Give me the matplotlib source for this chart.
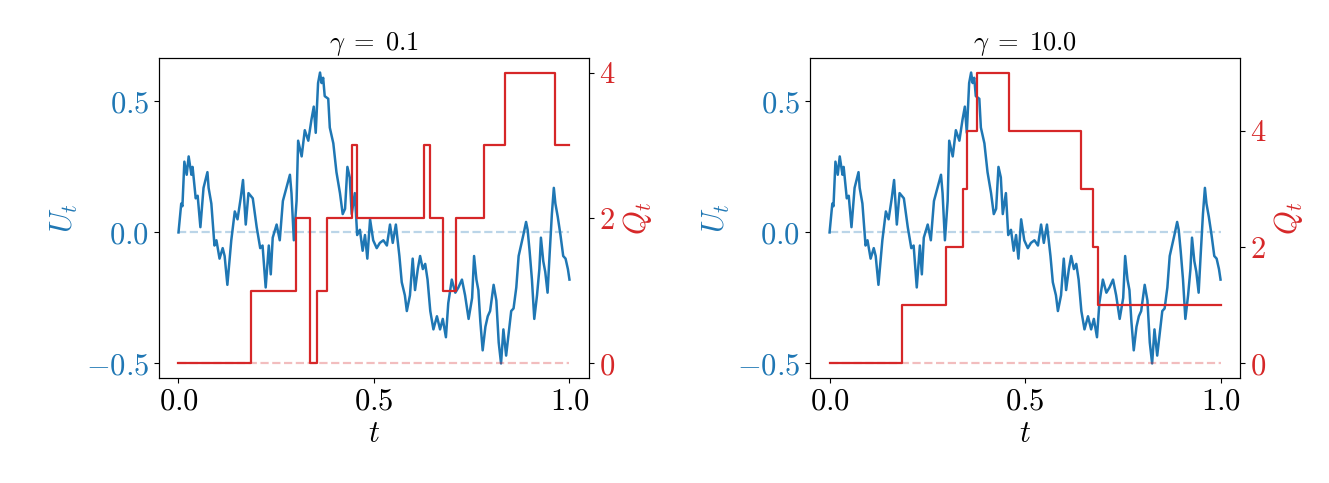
import numpy as np
import matplotlib
matplotlib.use("Agg")
import matplotlib.pyplot as plt

plt.rcParams["font.family"] = ["cmr10", "DejaVu Serif"]
plt.rcParams["mathtext.fontset"] = "cm"
plt.rcParams["axes.formatter.use_mathtext"] = True
plt.rcParams["axes.unicode_minus"] = True

# U_t path (same path in both panels)
t_path = [0.000, 0.007, 0.010, 0.015, 0.021, 0.026, 0.033, 0.036, 0.044, 0.049,
          0.056, 0.064, 0.074, 0.077, 0.084, 0.092, 0.097, 0.105, 0.113, 0.118,
          0.125, 0.135, 0.144, 0.151, 0.159, 0.165, 0.172, 0.179, 0.190, 0.200,
          0.209, 0.215, 0.223, 0.231, 0.236, 0.241, 0.251, 0.259, 0.267, 0.276,
          0.285, 0.289, 0.295, 0.302, 0.306, 0.315, 0.323, 0.332, 0.340, 0.346,
          0.351, 0.357, 0.362, 0.366, 0.370, 0.374, 0.383, 0.387, 0.396, 0.404,
          0.413, 0.420, 0.426, 0.432, 0.438, 0.443, 0.451, 0.457, 0.464, 0.471,
          0.477, 0.483, 0.490, 0.498, 0.507, 0.515, 0.524, 0.533, 0.541, 0.548,
          0.556, 0.565, 0.571, 0.579, 0.584, 0.592, 0.599, 0.605, 0.612, 0.618,
          0.625, 0.631, 0.637, 0.644, 0.652, 0.661, 0.669, 0.676, 0.684, 0.690,
          0.699, 0.708, 0.716, 0.725, 0.733, 0.742, 0.751, 0.756, 0.762, 0.767,
          0.772, 0.778, 0.785, 0.791, 0.797, 0.806, 0.813, 0.819, 0.825, 0.831,
          0.838, 0.844, 0.851, 0.857, 0.864, 0.870, 0.876, 0.882, 0.889, 0.893,
          0.898, 0.904, 0.910, 0.917, 0.923, 0.927, 0.933, 0.938, 0.944, 0.949,
          0.955, 0.960, 0.964, 0.970, 0.977, 0.984, 0.990, 0.996, 1.000]
u_path = [0.00, 0.11, 0.10, 0.27, 0.22, 0.29, 0.22, 0.25, 0.13, 0.14,
          0.02, 0.17, 0.23, 0.17, 0.11, -0.05, -0.03, -0.10, -0.06, -0.09,
          -0.20, -0.03, 0.08, 0.05, 0.13, 0.20, 0.03, 0.15, 0.13, 0.02,
          -0.06, -0.05, -0.21, -0.05, -0.16, -0.02, 0.03, -0.03, 0.12, 0.17,
          0.22, 0.15, -0.03, 0.12, 0.35, 0.29, 0.39, 0.35, 0.43, 0.48,
          0.38, 0.57, 0.61, 0.57, 0.59, 0.52, 0.51, 0.40, 0.34, 0.23,
          0.15, 0.07, 0.09, 0.25, 0.21, 0.07, 0.15, -0.01, 0.01, -0.07,
          -0.01, -0.10, 0.05, -0.03, -0.06, -0.04, -0.03, -0.05, 0.03, -0.04,
          0.03, -0.09, -0.19, -0.24, -0.30, -0.24, -0.10, -0.22, -0.14, -0.09,
          -0.14, -0.12, -0.18, -0.30, -0.37, -0.32, -0.37, -0.33, -0.40, -0.27,
          -0.18, -0.23, -0.21, -0.18, -0.24, -0.33, -0.25, -0.09, -0.18, -0.22,
          -0.34, -0.45, -0.36, -0.32, -0.30, -0.20, -0.26, -0.42, -0.50, -0.37,
          -0.47, -0.39, -0.30, -0.29, -0.21, -0.09, -0.05, -0.01, 0.04, 0.01,
          -0.07, -0.18, -0.33, -0.24, -0.14, -0.02, -0.11, -0.15, -0.23, -0.09,
          0.07, 0.17, 0.11, 0.06, -0.01, -0.09, -0.10, -0.14, -0.18]

# Q_t step functions (jump times and levels)
q_times_a = [0.0, 0.185, 0.301, 0.337, 0.353, 0.380, 0.445, 0.457, 0.628,
             0.644, 0.676, 0.709, 0.782, 0.834, 0.963, 1.0]
q_levels_a = [0, 1, 2, 0, 1, 2, 3, 2, 3, 2, 1, 2, 3, 4, 3]

q_times_b = [0.0, 0.185, 0.299, 0.342, 0.352, 0.378, 0.459, 0.644, 0.674,
             0.686, 1.0]
q_levels_b = [0, 1, 2, 3, 4, 5, 4, 3, 2, 1]

gammas = ["0.1", "10.0"]

blue = "tab:blue"
red = "tab:red"
fs = 22

fig = plt.figure(figsize=(13.29, 4.83), dpi=100)
positions = [[0.1196, 0.2174, 0.3236, 0.6625], [0.6095, 0.2174, 0.3236, 0.6625]]

for pos, g, qt, ql in zip(positions, gammas, [q_times_a, q_times_b], [q_levels_a, q_levels_b]):
    ax = fig.add_axes(pos)
    ax.plot(t_path, u_path, color=blue, lw=1.8)
    ax.hlines(0, 0, 1, colors=blue, linestyles="--", alpha=0.3, lw=1.6)
    ax.set_xlabel(r"$t$", fontsize=fs)
    ax.set_ylabel(r"$U_t$", color=blue, fontsize=fs)
    ax.set_title(r"$\gamma\;=\;%s$" % g, fontsize=19)
    ax.set_xticks([0, 0.5, 1.0])
    ax.set_yticks([-0.5, 0.0, 0.5])
    ax.tick_params(axis="x", labelsize=fs)
    ax.tick_params(axis="y", labelsize=fs, labelcolor=blue)

    ax2 = ax.twinx()
    ax2.step(qt, ql + [ql[-1]], where="post", color=red, lw=1.6)
    ax2.hlines(0, 0, 1, colors=red, linestyles="--", alpha=0.3, lw=1.6)
    ax2.set_ylabel(r"$Q_t$", color=red, fontsize=fs)
    ax2.set_yticks([0, 2, 4])
    ax2.tick_params(axis="y", labelsize=fs, labelcolor=red)

fig.savefig("out.png", dpi=100)
